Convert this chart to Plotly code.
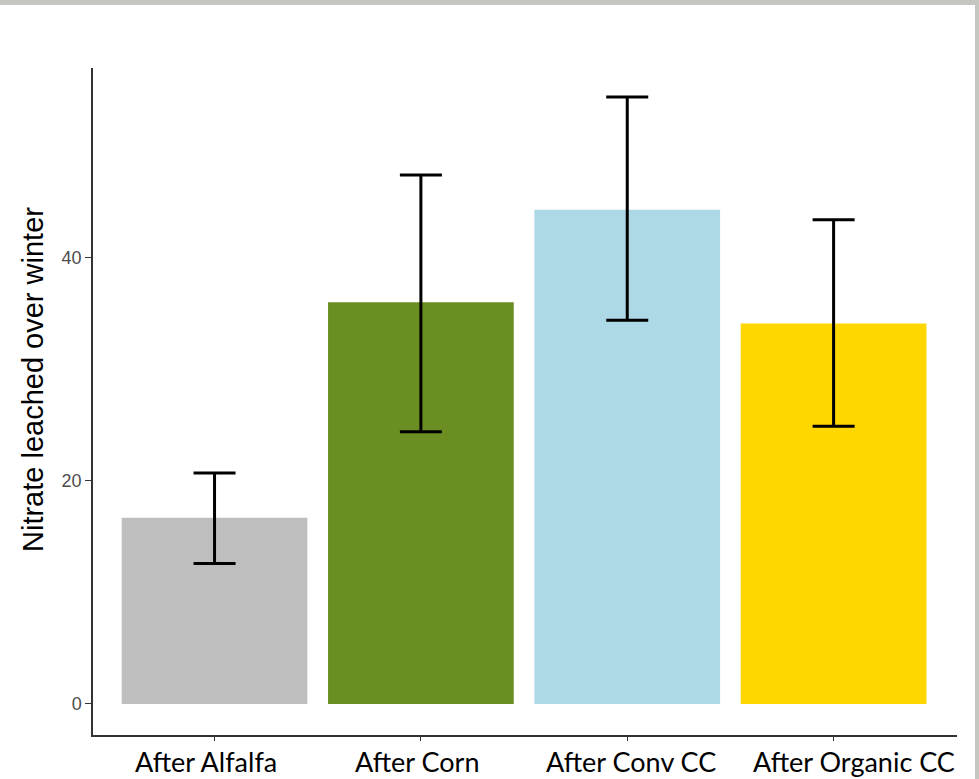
import plotly.graph_objects as go

# Winter nitrate leaching by preceding crop
categories = ["After Alfalfa", "After Corn", "After Conv CC", "After Organic CC"]
nitrate_mean = [16.7, 36.0, 44.3, 34.1]
ci_upper = [20.7, 47.4, 54.4, 43.4]
ci_lower = [12.6, 24.4, 34.4, 24.9]
bar_colors = ["#BEBEBE", "#6B8E23", "#ADD8E6", "#FFD700"]
y_ticks = [0, 20, 40]
# horizontal nudge of each category label (px)
label_shift = [-9, -3, 4, 20]

err_plus = [u - m for u, m in zip(ci_upper, nitrate_mean)]
err_minus = [m - l for m, l in zip(nitrate_mean, ci_lower)]

fig = go.Figure()
fig.add_trace(go.Bar(
    x=categories,
    y=nitrate_mean,
    marker=dict(color=bar_colors, line=dict(width=0)),
    width=0.9,
    error_y=dict(
        type="data",
        symmetric=False,
        array=err_plus,
        arrayminus=err_minus,
        color="black",
        thickness=3,
        width=21,
    ),
    showlegend=False,
))

# plot area in pixels: x 93..957, y 68..735
L, R, T, B = 93, 957, 68, 735
W, H = 979, 779
pw, ph = R - L, B - T

label_font = dict(family="Lato, sans-serif", size=27, color="black")

annotations = [
    dict(
        text=cat, x=cat, xref="x", y=0, yref="paper",
        xanchor="center", yanchor="top", yshift=-8, xshift=dx,
        showarrow=False, font=label_font,
    )
    for cat, dx in zip(categories, label_shift)
]
annotations.append(dict(
    text="Nitrate leached over winter",
    xref="paper", yref="paper",
    x=(33 - L) / pw, y=(B - 380) / ph,
    xanchor="center", yanchor="middle",
    textangle=-90, showarrow=False,
    font=dict(family="Liberation Sans, Arial, sans-serif", size=29, color="black"),
))

fig.update_layout(
    width=W,
    height=H,
    margin=dict(l=L, r=W - R, t=T, b=H - B),
    paper_bgcolor="white",
    plot_bgcolor="white",
    xaxis=dict(
        range=[-0.589, 3.598],
        showline=True,
        linecolor="#333333",
        linewidth=1.5,
        ticks="outside",
        ticklen=4,
        tickcolor="#333333",
        showticklabels=False,
        showgrid=False,
        zeroline=False,
        automargin=False,
    ),
    yaxis=dict(
        range=[-2.78, 57.0],
        tickvals=y_ticks,
        showline=True,
        linecolor="#333333",
        linewidth=1.5,
        ticks="outside",
        ticklen=6,
        tickcolor="#333333",
        tickfont=dict(family="Liberation Sans, Arial, sans-serif", size=18, color="#4D4D4D"),
        showgrid=False,
        zeroline=False,
        automargin=False,
    ),
    annotations=annotations,
    shapes=[
        # grey frame strips along top and right edges
        dict(type="rect", xref="paper", yref="paper",
             x0=-0.2, x1=1.05, y0=(B - 5) / ph, y1=(B + 5) / ph + 0.02,
             fillcolor="#C4C6C0", line=dict(width=0), layer="above"),
        dict(type="rect", xref="paper", yref="paper",
             x0=(975 - L) / pw, x1=1.05, y0=-0.1, y1=(B + 5) / ph + 0.02,
             fillcolor="#C4C6C0", line=dict(width=0), layer="above"),
    ],
)

fig.write_html("out.html")
